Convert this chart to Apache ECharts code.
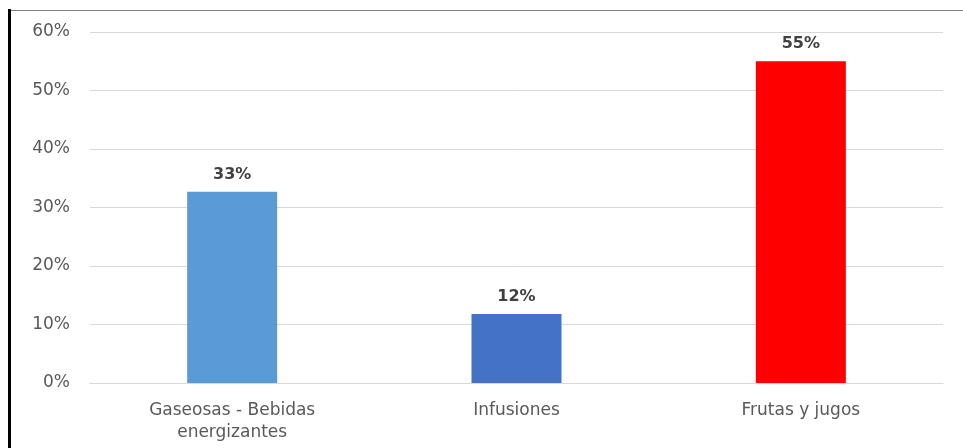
<!DOCTYPE html>
<html><head><meta charset="utf-8">
<script src="https://cdn.jsdelivr.net/npm/echarts@6/dist/echarts.min.js"></script>
<style>html,body{margin:0;padding:0;background:#fff}#c{width:963px;height:448px}</style>
</head><body><div id="c"></div>
<script>
const categories = ['Gaseosas - Bebidas\nenergizantes', 'Infusiones', 'Frutas y jugos'];
const values = [32.7, 11.8, 55.0];
const barColors = ['#5B9BD5', '#4472C4', '#FF0000'];
const yTicks = [0, 10, 20, 30, 40, 50, 60];

const chart = echarts.init(document.getElementById('c'));
chart.setOption({
  animation: false,
  graphic: [
    {type: 'line', shape: {x1: 9, y1: 10.5, x2: 963, y2: 10.5}, style: {stroke: '#7f7f7f', lineWidth: 1}},
    {type: 'line', shape: {x1: 9.5, y1: 9, x2: 9.5, y2: 448}, style: {stroke: '#000', lineWidth: 3}}
  ],
  grid: {left: 90, right: 20, top: 32, bottom: 65},
  xAxis: {
    type: 'category', data: categories,
    axisLine: {lineStyle: {color: '#d9d9d9'}}, axisTick: {show: false},
    axisLabel: {color: '#595959', fontFamily: 'DejaVu Sans', fontSize: 17, margin: 17, lineHeight: 22}
  },
  yAxis: {
    type: 'value', min: yTicks[0], max: yTicks[yTicks.length - 1], interval: 10,
    axisLine: {show: false}, axisTick: {show: false},
    splitLine: {lineStyle: {color: '#d9d9d9'}},
    axisLabel: {color: '#595959', fontFamily: 'DejaVu Sans', fontSize: 17, margin: 20, formatter: v => v + '%'}
  },
  series: [{
    type: 'bar', barWidth: 90,
    data: values.map((v, i) => ({value: v, itemStyle: {color: barColors[i]}})),
    label: {show: true, position: 'top', distance: 9, color: '#404040', fontWeight: 'bold',
      fontFamily: 'DejaVu Sans', fontSize: 16, formatter: p => Math.round(p.value) + '%'}
  }]
});
</script></body></html>
